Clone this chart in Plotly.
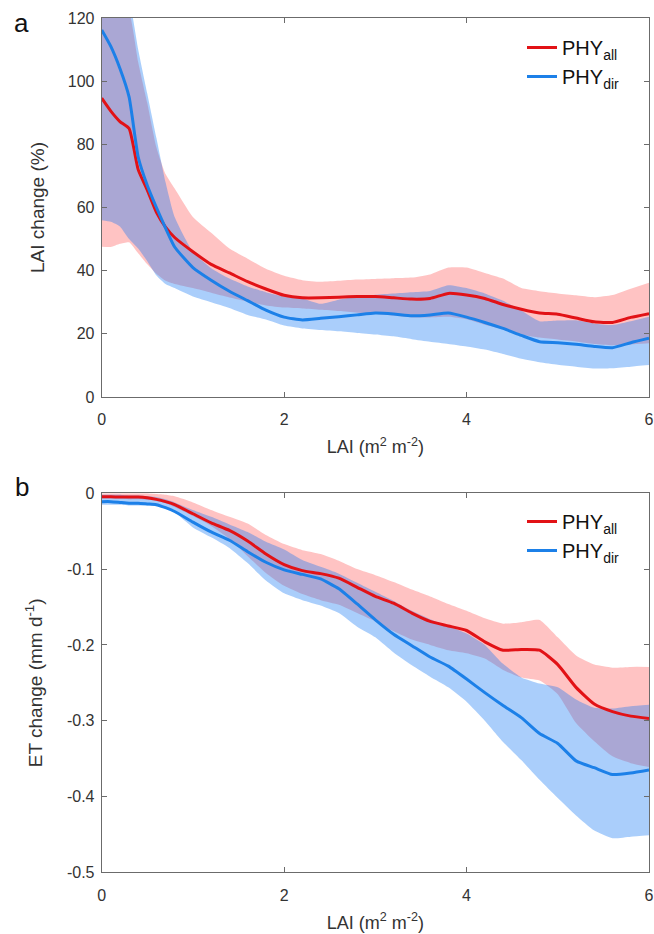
import plotly.graph_objects as go

# ---------------- data ----------------
lai = [0, 0.1, 0.2, 0.3, 0.4, 0.5, 0.6, 0.7, 0.8, 1.0, 1.2, 1.4, 1.6, 1.8, 2.0,
       2.2, 2.4, 2.6, 2.8, 3.0, 3.2, 3.4, 3.6, 3.8, 4.0, 4.2, 4.4, 4.6, 4.8, 5.0,
       5.2, 5.4, 5.6, 5.8, 6.0]

# Panel a: LAI change (%)
lai_all_mean = [94.6, 90.5, 87.2, 85.0, 72.0, 65.5, 58.5, 53.8, 50.5, 46, 42, 39.3, 36.5, 34.2, 32.2,
                31.4, 31.4, 31.6, 31.8, 31.8, 31.4, 31.0, 31.2, 32.8, 32.3, 31.2, 29.3, 27.8, 26.6, 26.2,
                25.0, 23.8, 23.6, 25.2, 26.4]
lai_all_upper = [125, 125, 125, 122, 106, 93, 79, 70.6, 66, 57, 52, 47, 43.8, 40.6, 38.4,
                 37.0, 36.5, 36.8, 37.2, 37.4, 37.6, 37.8, 38.8, 41.0, 41.0, 39.3, 37.5, 34.5, 33.5, 32.8,
                 32.2, 31.6, 32.3, 34.3, 36.2]
lai_all_lower = [47.6, 47.5, 48.5, 49, 45.5, 42, 39, 36.8, 35.8, 34.5, 33, 31.5, 30.2, 29, 28.3,
                 28.0, 27.6, 27.2, 26.7, 26.3, 25.8, 25.2, 25.2, 25.4, 24.6, 22.9, 21.5, 19.8, 18.8, 18.2,
                 17.6, 16.8, 16.4, 16.6, 17.0]
lai_dir_mean = [116.2, 111, 104, 95, 76, 67, 60, 53.5, 47.5, 41, 37, 33.5, 30.5, 27.5, 25.3,
                24.4, 24.9, 25.4, 26.0, 26.6, 26.3, 25.7, 26.0, 26.6, 25.3, 23.6, 21.7, 19.5, 17.5, 17.2,
                16.7, 16.0, 15.6, 17.2, 18.6]
lai_dir_upper = [135, 134, 131, 126, 110, 96, 82, 68, 57, 46, 40.8, 37.5, 35, 33.2, 31.8,
                 31.2, 29.5, 30.8, 31.8, 32.4, 32.8, 33.2, 33.6, 35.4, 34.5, 32.8, 30.5, 27.4, 24.0, 24.2,
                 24.3, 23.3, 22.8, 24.0, 25.4]
lai_dir_lower = [56, 55.5, 54, 50, 47, 43, 38.5, 35.8, 34.5, 31.8, 30, 28.2, 26, 24.5, 22.6,
                 21.7, 21.2, 20.8, 20.3, 19.8, 19.2, 18.3, 17.5, 16.8, 16.0, 15.0, 13.6, 12.1, 11.0, 10.2,
                 9.6, 9.0, 9.1, 9.6, 10.1]

# Panel b: ET change (mm d-1)
et_all_mean = [-0.0045, -0.0045, -0.005, -0.005, -0.005, -0.006, -0.008, -0.011, -0.015, -0.027, -0.039, -0.049, -0.063, -0.080, -0.094,
               -0.102, -0.106, -0.112, -0.124, -0.136, -0.145, -0.158, -0.169, -0.175, -0.181, -0.196, -0.207, -0.206, -0.207, -0.226,
               -0.256, -0.278, -0.288, -0.294, -0.297]
et_all_upper = [0.0, 0.0, 0.0, 0.0, 0.0, 0.0, -0.001, -0.002, -0.004, -0.012, -0.022, -0.031, -0.040, -0.055, -0.067,
                -0.075, -0.080, -0.089, -0.100, -0.108, -0.117, -0.127, -0.136, -0.146, -0.155, -0.165, -0.172, -0.170, -0.167, -0.190,
                -0.214, -0.226, -0.230, -0.229, -0.229]
et_all_lower = [-0.007, -0.007, -0.007, -0.008, -0.008, -0.009, -0.010, -0.013, -0.018, -0.030, -0.043, -0.060, -0.083, -0.105, -0.122,
                -0.133, -0.141, -0.147, -0.158, -0.169, -0.182, -0.193, -0.200, -0.207, -0.211, -0.218, -0.233, -0.243, -0.247, -0.265,
                -0.303, -0.327, -0.347, -0.356, -0.361]
et_dir_mean = [-0.011, -0.011, -0.012, -0.013, -0.013, -0.014, -0.015, -0.019, -0.024, -0.038, -0.051, -0.062, -0.077, -0.091, -0.101,
               -0.107, -0.113, -0.126, -0.146, -0.167, -0.186, -0.201, -0.216, -0.228, -0.245, -0.263, -0.280, -0.296, -0.317, -0.330,
               -0.353, -0.362, -0.371, -0.369, -0.365]
et_dir_upper = [-0.002, -0.002, -0.002, -0.003, -0.003, -0.004, -0.005, -0.008, -0.012, -0.022, -0.031, -0.041, -0.051, -0.064, -0.074,
                -0.088, -0.097, -0.106, -0.118, -0.130, -0.142, -0.155, -0.166, -0.175, -0.185, -0.200, -0.225, -0.243, -0.251, -0.256,
                -0.272, -0.283, -0.284, -0.281, -0.279]
et_dir_lower = [-0.015, -0.015, -0.015, -0.016, -0.016, -0.016, -0.017, -0.020, -0.025, -0.045, -0.058, -0.072, -0.092, -0.115, -0.132,
                -0.141, -0.148, -0.158, -0.176, -0.190, -0.210, -0.227, -0.242, -0.256, -0.275, -0.300, -0.328, -0.352, -0.378, -0.402,
                -0.425, -0.445, -0.455, -0.453, -0.451]

series_names = ["PHY<sub>all</sub>", "PHY<sub>dir</sub>"]
x_ticks = [0, 2, 4, 6]
x_ticktext = ["0", "2", "4", "6"]
ya_ticks = [0, 20, 40, 60, 80, 100, 120]
yb_ticks = [0, -0.1, -0.2, -0.3, -0.4, -0.5]
yb_ticktext = ["0", "-0.1", "-0.2", "-0.3", "-0.4", "-0.5"]

# ---------------- style ----------------
RED = "rgb(226,18,22)"
BLUE = "rgb(28,128,232)"
RED_FILL = "rgba(255,40,40,0.28)"
BLUE_FILL = "rgba(20,120,245,0.36)"
FONT = "Liberation Sans, Arial, sans-serif"
AXC = "#6b6b6b"
SM = 0.5

fig = go.Figure()


def add_panel(xa, ya, legend, allm, allu, alll, dirm, diru, dirl):
    # red band
    fig.add_trace(go.Scatter(x=lai, y=alll, mode="lines", line=dict(width=0, shape="spline", smoothing=SM),
                             showlegend=False, hoverinfo="skip", xaxis=xa, yaxis=ya))
    fig.add_trace(go.Scatter(x=lai, y=allu, mode="lines", line=dict(width=0, shape="spline", smoothing=SM),
                             fill="tonexty", fillcolor=RED_FILL, showlegend=False, hoverinfo="skip",
                             xaxis=xa, yaxis=ya))
    # blue band
    fig.add_trace(go.Scatter(x=lai, y=dirl, mode="lines", line=dict(width=0, shape="spline", smoothing=SM),
                             showlegend=False, hoverinfo="skip", xaxis=xa, yaxis=ya))
    fig.add_trace(go.Scatter(x=lai, y=diru, mode="lines", line=dict(width=0, shape="spline", smoothing=SM),
                             fill="tonexty", fillcolor=BLUE_FILL, showlegend=False, hoverinfo="skip",
                             xaxis=xa, yaxis=ya))
    # lines
    fig.add_trace(go.Scatter(x=lai, y=allm, mode="lines",
                             line=dict(color=RED, width=3, shape="spline", smoothing=SM),
                             name=series_names[0], legend=legend, legendgroup=legend + "a",
                             xaxis=xa, yaxis=ya))
    fig.add_trace(go.Scatter(x=lai, y=dirm, mode="lines",
                             line=dict(color=BLUE, width=3, shape="spline", smoothing=SM),
                             name=series_names[1], legend=legend, legendgroup=legend + "b",
                             xaxis=xa, yaxis=ya))


add_panel("x", "y", "legend", lai_all_mean, lai_all_upper, lai_all_lower,
          lai_dir_mean, lai_dir_upper, lai_dir_lower)
add_panel("x2", "y2", "legend2", et_all_mean, et_all_upper, et_all_lower,
          et_dir_mean, et_dir_upper, et_dir_lower)

W, H = 654, 934
x0, x1 = 101.7 / W, 649.0 / W

axis_common = dict(
    showline=True, linecolor=AXC, linewidth=1, mirror="ticks",
    ticks="inside", ticklen=5, tickcolor=AXC, tickwidth=1,
    showgrid=False, zeroline=False, automargin=False,
    tickfont=dict(family=FONT, size=16, color="#333333"),
)

xaxis_title = dict(text="LAI (m<sup>2</sup> m<sup>-2</sup>)",
                   font=dict(family=FONT, size=18, color="#333333"), standoff=13)

legend_common = dict(xanchor="left", yanchor="top", bgcolor="rgba(0,0,0,0)", borderwidth=0,
                     traceorder="normal", tracegroupgap=11,
                     font=dict(family=FONT, size=20, color="#111111"))

fig.update_layout(
    width=W, height=H,
    margin=dict(l=0, r=0, t=0, b=0, autoexpand=False),
    paper_bgcolor="white", plot_bgcolor="white",
    showlegend=True,
    xaxis=dict(domain=[x0, x1], range=[0, 6], tickvals=x_ticks, ticktext=x_ticktext,
               anchor="y", ticklabelstandoff=8, title=xaxis_title, **axis_common),
    yaxis=dict(domain=[1 - 397 / H, 1 - 18 / H], range=[0, 120], tickvals=ya_ticks,
               anchor="x", ticklabelstandoff=3,
               title=dict(text="LAI change (%)", font=dict(family=FONT, size=19, color="#333333"),
                          standoff=18), **axis_common),
    xaxis2=dict(domain=[x0, x1], range=[0, 6], tickvals=x_ticks, ticktext=x_ticktext,
                anchor="y2", ticklabelstandoff=8, title=xaxis_title, **axis_common),
    yaxis2=dict(domain=[1 - 872.3 / H, 1 - 493.3 / H], range=[-0.5, 0], tickvals=yb_ticks,
                ticktext=yb_ticktext, anchor="x2", ticklabelstandoff=3,
                title=dict(text="ET change (mm d<sup>-1</sup>)",
                           font=dict(family=FONT, size=19, color="#333333"), standoff=19),
                **axis_common),
    legend=dict(x=522 / W, y=1 - 28 / H, **legend_common),
    legend2=dict(x=522 / W, y=1 - 502 / H, **legend_common),
    annotations=[
        dict(text="a", x=22 / W, y=1 - 23 / H, xref="paper", yref="paper", showarrow=False,
             xanchor="center", yanchor="middle",
             font=dict(family=FONT, size=26, color="#111111")),
        dict(text="b", x=22 / W, y=1 - 487 / H, xref="paper", yref="paper", showarrow=False,
             xanchor="center", yanchor="middle",
             font=dict(family=FONT, size=26, color="#111111")),
    ],
)

fig.write_html("out.html")
